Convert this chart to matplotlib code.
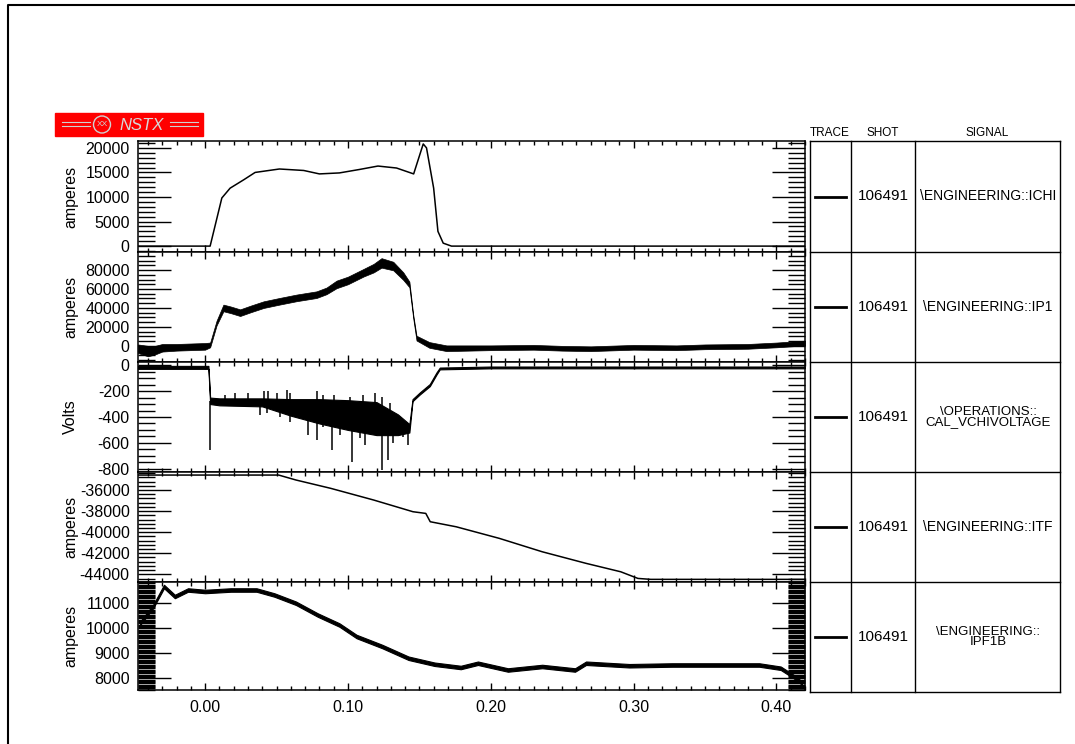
import numpy as np
import matplotlib
matplotlib.use("Agg")
import matplotlib.pyplot as plt
from matplotlib.ticker import MultipleLocator
from matplotlib.patches import Rectangle, Circle

plt.rcParams['font.family'] = ['Liberation Sans', 'DejaVu Sans']
plt.rcParams['axes.unicode_minus'] = False

# --- DATA ---
x_lim = (-0.047, 0.42)

# ICHI
ichi_t = [-0.047, 0.0035, 0.0117, 0.0175, 0.027, 0.035, 0.052, 0.069, 0.080, 0.094,
          0.108, 0.121, 0.134, 0.146, 0.1527, 0.155, 0.160, 0.163, 0.1667, 0.1725, 0.42]
ichi = [0, 0, 9800, 11800, 13500, 15000, 15700, 15400, 14700, 14900,
        15600, 16300, 15900, 14700, 20800, 20000, 11800, 3000, 600, 0, 0]

# IP1 (noisy: centre and half-spread)
ip1_t = [-0.047, -0.040, -0.035, -0.030, -0.020, -0.010, 0.0, 0.0035, 0.008, 0.0128,
         0.018, 0.0245, 0.032, 0.041, 0.052, 0.064, 0.078, 0.085, 0.092, 0.100, 0.111,
         0.118, 0.1235, 0.1317, 0.1387, 0.143, 0.1457, 0.148, 0.157, 0.169, 0.20,
         0.23, 0.25, 0.27, 0.30, 0.33, 0.35, 0.38, 0.40, 0.42]
ip1 = [-3000, -5500, -4500, -2000, -1500, -1000, -500, 1000, 24000, 40000,
       38000, 35000, 39000, 43500, 47000, 50600, 54000, 58000, 64800, 69000, 77200,
       82000, 87500, 84200, 73600, 64800, 31000, 8200, 1000, -2500, -2000,
       -1500, -2500, -3000, -1500, -2000, -1000, -500, 1000, 3000]
ip1_spread = [4500, 5500, 4500, 4000, 3500, 3500, 3500, 2500, 2500, 3500,
              3500, 3500, 3500, 3500, 3500, 3500, 3500, 3500, 4000, 4000, 4000,
              4500, 5000, 4500, 4000, 3000, 2000, 2500, 3000, 3000, 2500,
              2500, 2500, 2500, 2500, 2500, 2500, 2500, 2500, 2500]

# CAL_VCHIVOLTAGE (dense core: low / high edges) + spikes out of the core
vchi_t = [-0.047, 0.0023, 0.0035, 0.010, 0.040, 0.060, 0.080, 0.100, 0.120,
          0.135, 0.143, 0.1452, 0.1503, 0.1573, 0.162, 0.1643, 0.20, 0.42]
vchi_hi = [-5, -5, -250, -256, -256, -262, -262, -270, -285,
           -380, -455, -262, -210, -145, -55, -18, -10, -10]
vchi_lo = [-28, -28, -300, -310, -318, -390, -450, -500, -540,
           -540, -520, -278, -226, -162, -72, -32, -24, -24]
spike_t = [0.0035, 0.0140, 0.0210, 0.0303, 0.0413, 0.0443, 0.0506, 0.0571, 0.0594,
           0.0781, 0.0827, 0.0902, 0.0967, 0.1014, 0.1107, 0.1189, 0.1235, 0.1294,
           0.0385, 0.0431, 0.0524, 0.0594, 0.0723, 0.0781, 0.0827, 0.0886, 0.0944,
           0.0991, 0.1031, 0.1084, 0.1119, 0.1154, 0.1235, 0.1282, 0.1317, 0.1387, 0.1422]
spike_v = [-655, -231, -218, -213, -198, -198, -218, -192, -218,
           -198, -231, -231, -269, -244, -231, -218, -244, -295,
           -385, -372, -398, -436, -539, -577, -475, -654, -539,
           -475, -744, -564, -615, -526, -808, -731, -603, -552, -615]
spike_base = [-280, -280, -280, -280, -280, -280, -300, -300, -300,
              -320, -320, -330, -340, -340, -360, -370, -380, -420,
              -300, -300, -300, -320, -340, -360, -360, -380, -380,
              -390, -400, -400, -410, -420, -430, -440, -450, -470, -480]

# ITF
itf_t = [-0.047, 0.0515, 0.0636, 0.0879, 0.118, 0.1455, 0.1545, 0.1576, 0.1758,
         0.206, 0.236, 0.2667, 0.291, 0.303, 0.312, 0.42]
itf = [-34580, -34580, -35050, -35840, -36950, -38060, -38220, -39010, -39490,
       -40590, -41860, -42960, -43760, -44390, -44480, -44480]

# IPF1B
ipf_t = [-0.0455, -0.0364, -0.0288, -0.0212, -0.012, 0.0, 0.018, 0.036, 0.0485,
         0.0636, 0.0788, 0.094, 0.106, 0.124, 0.1424, 0.1606, 0.179, 0.191, 0.212,
         0.236, 0.259, 0.2667, 0.297, 0.327, 0.3576, 0.388, 0.403, 0.412, 0.418]
ipf = [10200, 10870, 11670, 11270, 11530, 11470, 11530, 11530, 11330,
       11000, 10530, 10130, 9670, 9270, 8800, 8560, 8430, 8600, 8330,
       8470, 8330, 8600, 8500, 8530, 8530, 8530, 8400, 8070, 7800]
ipf_spread = 70

ylabels = ["amperes", "amperes", "Volts", "amperes", "amperes"]
ylims = [(-1200, 21400), (-17000, 99000), (-825, 25), (-44730, -34290), (7530, 11850)]
ymajor = [5000, 20000, 200, 2000, 1000]
yminor = [1000, 5000, 50, 400, 50]
shot = "106491"
signals = ["\\ENGINEERING::ICHI", "\\ENGINEERING::IP1", "\\OPERATIONS::\nCAL_VCHIVOLTAGE",
           "\\ENGINEERING::ITF", "\\ENGINEERING::\nIPF1B"]

# --- FIGURE ---
W, H = 1075, 744
fig = plt.figure(figsize=(W / 100, H / 100), dpi=100)

# pixel-space overlay for frame, logo and table
ov = fig.add_axes([0, 0, 1, 1])
ov.set_xlim(0, W)
ov.set_ylim(H, 0)
ov.axis("off")
ov.plot([8, 8, W], [H, 5, 5], color="black", lw=1.5)

ov.add_patch(Rectangle((55, 113), 148, 23, color="#ff0000"))
for yy in (122, 126):
    ov.plot([62, 90], [yy, yy], color="#d0d0d0", lw=0.8)
    ov.plot([170, 198], [yy, yy], color="#d0d0d0", lw=0.8)
ov.add_patch(Circle((102, 124.5), 8.5, fill=False, ec="#d0d0d0", lw=1.0))
ov.text(102, 125, "XX", color="#d0d0d0", fontsize=6, ha="center", va="center")
ov.text(142, 125, "NSTX", color="#d8d8d8", fontsize=12, style="italic",
        ha="center", va="center")

row_tops = [141, 252, 362, 472, 582, 692]
col_x = [810, 851, 915, 1060]
for yy in row_tops:
    ov.plot([col_x[0], col_x[-1]], [yy, yy], color="black", lw=1)
for xx in col_x:
    ov.plot([xx, xx], [row_tops[0], row_tops[-1]], color="black", lw=1)
ov.text(830, 133, "TRACE", fontsize=8.5, ha="center", va="center")
ov.text(883, 133, "SHOT", fontsize=8.5, ha="center", va="center")
ov.text(987, 133, "SIGNAL", fontsize=8.5, ha="center", va="center")
for i, sig in enumerate(signals):
    yc = (row_tops[i] + row_tops[i + 1]) / 2
    ov.plot([815, 846], [yc, yc], color="black", lw=2)
    ov.text(883, yc, shot, fontsize=11, ha="center", va="center")
    ov.text(988, yc, sig, fontsize=10 if "\n" not in sig else 9.5, ha="center",
            va="center", linespacing=0.85)

# --- PANELS ---
left, right = 138 / W, 805 / W
axes = []
for i in range(5):
    top, bot = row_tops[i], (690 if i == 4 else row_tops[i + 1])
    ax = fig.add_axes([left, 1 - bot / H, right - left, (bot - top) / H])
    axes.append(ax)

axes[0].plot(ichi_t, ichi, color="black", lw=1.1)

ip1_c = np.array(ip1)
ip1_s = np.array(ip1_spread)
axes[1].fill_between(ip1_t, ip1_c - ip1_s, ip1_c + ip1_s, color="black", lw=0.5)

axes[2].fill_between(vchi_t, vchi_lo, vchi_hi, color="black", lw=0.8)
axes[2].vlines(spike_t, spike_v, spike_base, color="black", lw=1.1)

axes[3].plot(itf_t, itf, color="black", lw=1.1)

ipf_c = np.array(ipf)
axes[4].fill_between(ipf_t, ipf_c - ipf_spread, ipf_c + ipf_spread, color="black", lw=0.8)

for i, ax in enumerate(axes):
    ax.set_xlim(*x_lim)
    ax.set_ylim(*ylims[i])
    ax.xaxis.set_major_locator(MultipleLocator(0.1))
    ax.xaxis.set_minor_locator(MultipleLocator(0.01))
    ax.yaxis.set_major_locator(MultipleLocator(ymajor[i]))
    ax.yaxis.set_minor_locator(MultipleLocator(yminor[i]))
    ax.tick_params(axis="y", which="both", direction="in", left=True, right=True,
                   width=1, labelsize=11.5, pad=6)
    ax.tick_params(axis="y", which="major", length=24)
    ax.tick_params(axis="y", which="minor", length=12)
    ax.tick_params(axis="x", which="both", direction="in", top=True, bottom=True, width=1)
    ax.tick_params(axis="x", which="major", length=5, labelsize=11.5, pad=7)
    ax.tick_params(axis="x", which="minor", length=3)
    if i < 4:
        ax.tick_params(axis="x", labelbottom=False)
    else:
        ax.set_xticks([0.0, 0.1, 0.2, 0.3, 0.4])
        ax.set_xticklabels(["0.00", "0.10", "0.20", "0.30", "0.40"])
    for sp in ax.spines.values():
        sp.set_linewidth(1.1)
    ax.set_ylabel(ylabels[i], fontsize=11.5)
    ax.yaxis.set_label_coords(-0.09, 0.5)

fig.savefig("out.png", dpi=100)
